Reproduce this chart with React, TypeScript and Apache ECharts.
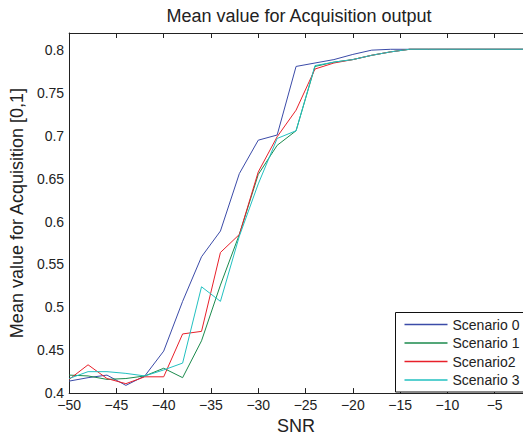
import React, { useEffect, useRef } from "react";
import * as echarts from "echarts";

const snr = [-50, -48, -46, -44, -42, -40, -38, -36, -34, -32, -30, -28, -26, -24, -22, -20, -18, -16, -14, -12, -10, -8, -6, -4, -2];
const scenario0 = [0.414, 0.418, 0.421, 0.409, 0.420, 0.449, 0.507, 0.559, 0.589, 0.656, 0.695, 0.701, 0.781, 0.785, 0.789, 0.795, 0.800, 0.801, 0.801, 0.801, 0.801, 0.801, 0.801, 0.801, 0.801];
const scenario1 = [0.421, 0.420, 0.416, 0.417, 0.420, 0.429, 0.418, 0.461, 0.526, 0.585, 0.655, 0.689, 0.706, 0.781, 0.786, 0.789, 0.794, 0.798, 0.801, 0.801, 0.801, 0.801, 0.801, 0.801, 0.801];
const scenario2 = [0.416, 0.433, 0.417, 0.411, 0.419, 0.419, 0.469, 0.472, 0.564, 0.585, 0.658, 0.699, 0.730, 0.778, 0.785, 0.789, 0.794, 0.798, 0.801, 0.801, 0.801, 0.801, 0.801, 0.801, 0.801];
const scenario3 = [0.417, 0.425, 0.425, 0.423, 0.420, 0.427, 0.435, 0.524, 0.507, 0.583, 0.644, 0.697, 0.706, 0.782, 0.786, 0.789, 0.794, 0.798, 0.801, 0.801, 0.801, 0.801, 0.801, 0.801, 0.801];
const seriesNames = ["Scenario 0", "Scenario 1", "Scenario2", "Scenario 3"];
const seriesColors = ["#3b4ba8", "#1b8a4c", "#e8202a", "#22c0c0"];

const FONT = "'Liberation Sans', Arial, Helvetica, sans-serif";

export default function App() {
  const ref = useRef<HTMLDivElement>(null);
  useEffect(() => {
    if (!ref.current) return;
    const chart = echarts.init(ref.current, undefined, { renderer: "svg" });
    const all = [scenario0, scenario1, scenario2, scenario3];
    const fmtX = (v: number) => (v < 0 ? "\u2212" + Math.abs(v) : String(v));
    chart.setOption({
      animation: false,
      backgroundColor: "#fff",
      textStyle: { fontFamily: FONT },
      graphic: [
        {
          type: "text",
          x: 299,
          y: 16,
          style: {
            text: "Mean value for Acquisition output",
            textAlign: "center",
            textVerticalAlign: "middle",
            fontFamily: FONT,
            fontSize: 18,
            fill: "#222",
          },
        },
        {
          type: "rect",
          z: 3,
          shape: { x: 395.5, y: 312.5, width: 200, height: 79.5 },
          style: { fill: "#fff", stroke: "#111", lineWidth: 1 },
        },
      ],
      grid: { left: 67.5, top: 33, bottom: 40, right: -7.5, containLabel: false },
      legend: {
        orient: "vertical",
        left: 395.5,
        top: 312,
        z: 4,
        padding: [4.5, 5, 4, 9],
        itemWidth: 43,
        itemHeight: 1.5,
        itemGap: 2.5,
        icon: "rect",
        textStyle: { fontFamily: FONT, fontSize: 14, color: "#222", lineHeight: 16 },
        data: seriesNames,
      },
      xAxis: [
        {
          type: "value",
          min: -50,
          max: -2,
          interval: 5,
          position: "bottom",
          name: "SNR",
          nameLocation: "middle",
          nameGap: 21,
          nameTextStyle: { fontFamily: FONT, fontSize: 18, color: "#222" },
          axisLine: { show: true, onZero: false, lineStyle: { color: "#222", width: 1 } },
          axisTick: { show: true, inside: true, length: 5, lineStyle: { color: "#222" } },
          axisLabel: { show: true, margin: 5, fontFamily: FONT, fontSize: 14, color: "#222", formatter: fmtX, showMaxLabel: false },
          splitLine: { show: false },
        },
        {
          type: "value",
          min: -50,
          max: -2,
          interval: 5,
          position: "top",
          axisLine: { show: true, onZero: false, lineStyle: { color: "#222", width: 1 } },
          axisTick: { show: true, inside: true, length: 5, lineStyle: { color: "#222" } },
          axisLabel: { show: false },
          splitLine: { show: false },
        },
      ],
      yAxis: {
        type: "value",
        min: 0.4,
        max: 0.82,
        interval: 0.05,
        name: "Mean value for Acquisition [0,1]",
        nameLocation: "middle",
        nameGap: 38,
        nameTextStyle: { fontFamily: FONT, fontSize: 18, color: "#222" },
        axisLine: { show: true, onZero: false, lineStyle: { color: "#222", width: 1 } },
        axisTick: { show: false },
        axisLabel: { margin: 5, fontFamily: FONT, fontSize: 14, color: "#222", showMaxLabel: false },
        splitLine: { show: false },
      },
      series: all.map((vals, i) => ({
        name: seriesNames[i],
        type: "line",
        xAxisIndex: 0,
        data: snr.map((x, j) => [x, vals[j]]),
        symbol: "none",
        lineStyle: { width: 1, color: seriesColors[i] },
        itemStyle: { color: seriesColors[i] },
        z: 2,
      })),
    });
    return () => chart.dispose();
  }, []);
  return <div ref={ref} style={{ position: "fixed", left: 0, top: 0, width: 523, height: 440 }} />;
}
